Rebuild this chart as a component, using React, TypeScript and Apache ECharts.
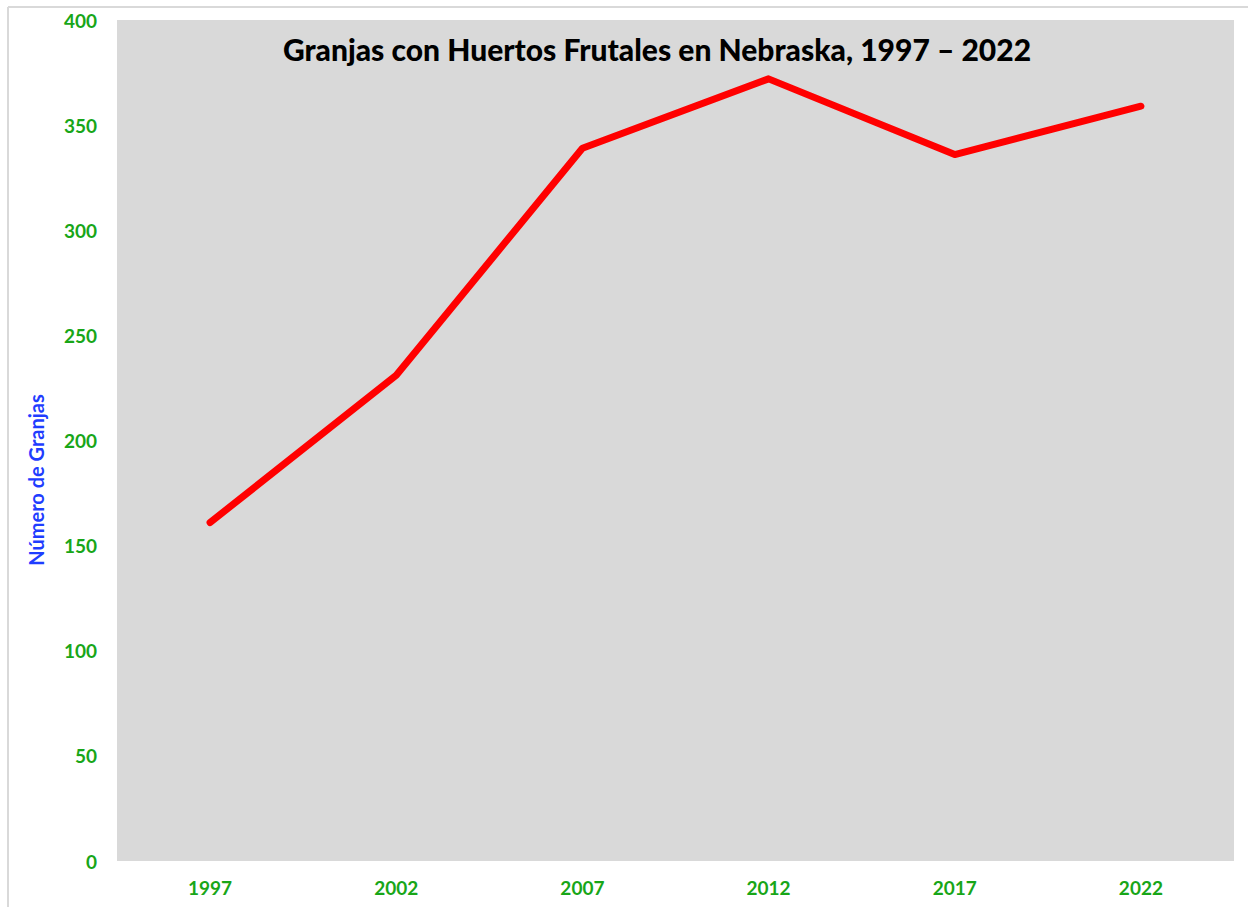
import React, { useEffect, useRef } from "react";
import * as echarts from "echarts";

const categories = ["1997", "2002", "2007", "2012", "2017", "2022"];
const farms = [161, 231, 339, 372, 336, 359];
const titleText = "Granjas con Huertos Frutales en Nebraska, 1997 – 2022";
const yAxisName = "Número de Granjas";

export default function App() {
  const ref = useRef<HTMLDivElement>(null);
  useEffect(() => {
    if (!ref.current) return;
    const chart = echarts.init(ref.current, null, { renderer: "svg" });
    const font = "Lato, 'Open Sans', sans-serif";
    chart.setOption({
      animation: false,
      backgroundColor: "#ffffff",
      title: {
        text: titleText,
        left: 652,
        top: 29,
        textAlign: "center",
        textStyle: { fontFamily: font, fontWeight: 900, fontSize: 30, color: "#000000" },
      },
      grid: {
        left: 117,
        top: 20,
        right: 1248 - 1234,
        bottom: 907 - 861,
        show: true,
        backgroundColor: "#d9d9d9",
        borderWidth: 0,
      },
      xAxis: {
        type: "category",
        data: categories,
        boundaryGap: true,
        axisLine: { show: false },
        axisTick: { show: false },
        axisLabel: {
          color: "#18a618",
          fontFamily: font,
          fontWeight: "bold",
          fontSize: 19,
          margin: 17,
        },
      },
      yAxis: {
        type: "value",
        min: 0,
        max: 400,
        interval: 50,
        splitLine: { show: false },
        axisLine: { show: false },
        axisTick: { show: false },
        axisLabel: {
          color: "#18a618",
          fontFamily: font,
          fontWeight: "bold",
          fontSize: 19,
          margin: 20,
        },
      },
      graphic: [
        {
          type: "line",
          shape: { x1: 8, y1: 7, x2: 1248, y2: 7 },
          style: { stroke: "#d9d9d9", lineWidth: 2 },
        },
        {
          type: "line",
          shape: { x1: 8, y1: 7, x2: 8, y2: 907 },
          style: { stroke: "#d9d9d9", lineWidth: 2 },
        },
        {
          type: "text",
          x: 36,
          y: 480,
          rotation: Math.PI / 2,
          style: {
            text: yAxisName,
            fill: "#1f3dff",
            font: "bold 20px " + font,
            align: "center",
            verticalAlign: "middle",
          },
        },
      ],
      series: [
        {
          type: "line",
          data: farms,
          showSymbol: false,
          symbol: "none",
          lineStyle: { color: "#ff0000", width: 7, cap: "round", join: "round" },
        },
      ],
    });
    return () => chart.dispose();
  }, []);
  return (
    <div
      ref={ref}
      style={{ position: "absolute", left: 0, top: 0, width: 1248, height: 907 }}
    />
  );
}
